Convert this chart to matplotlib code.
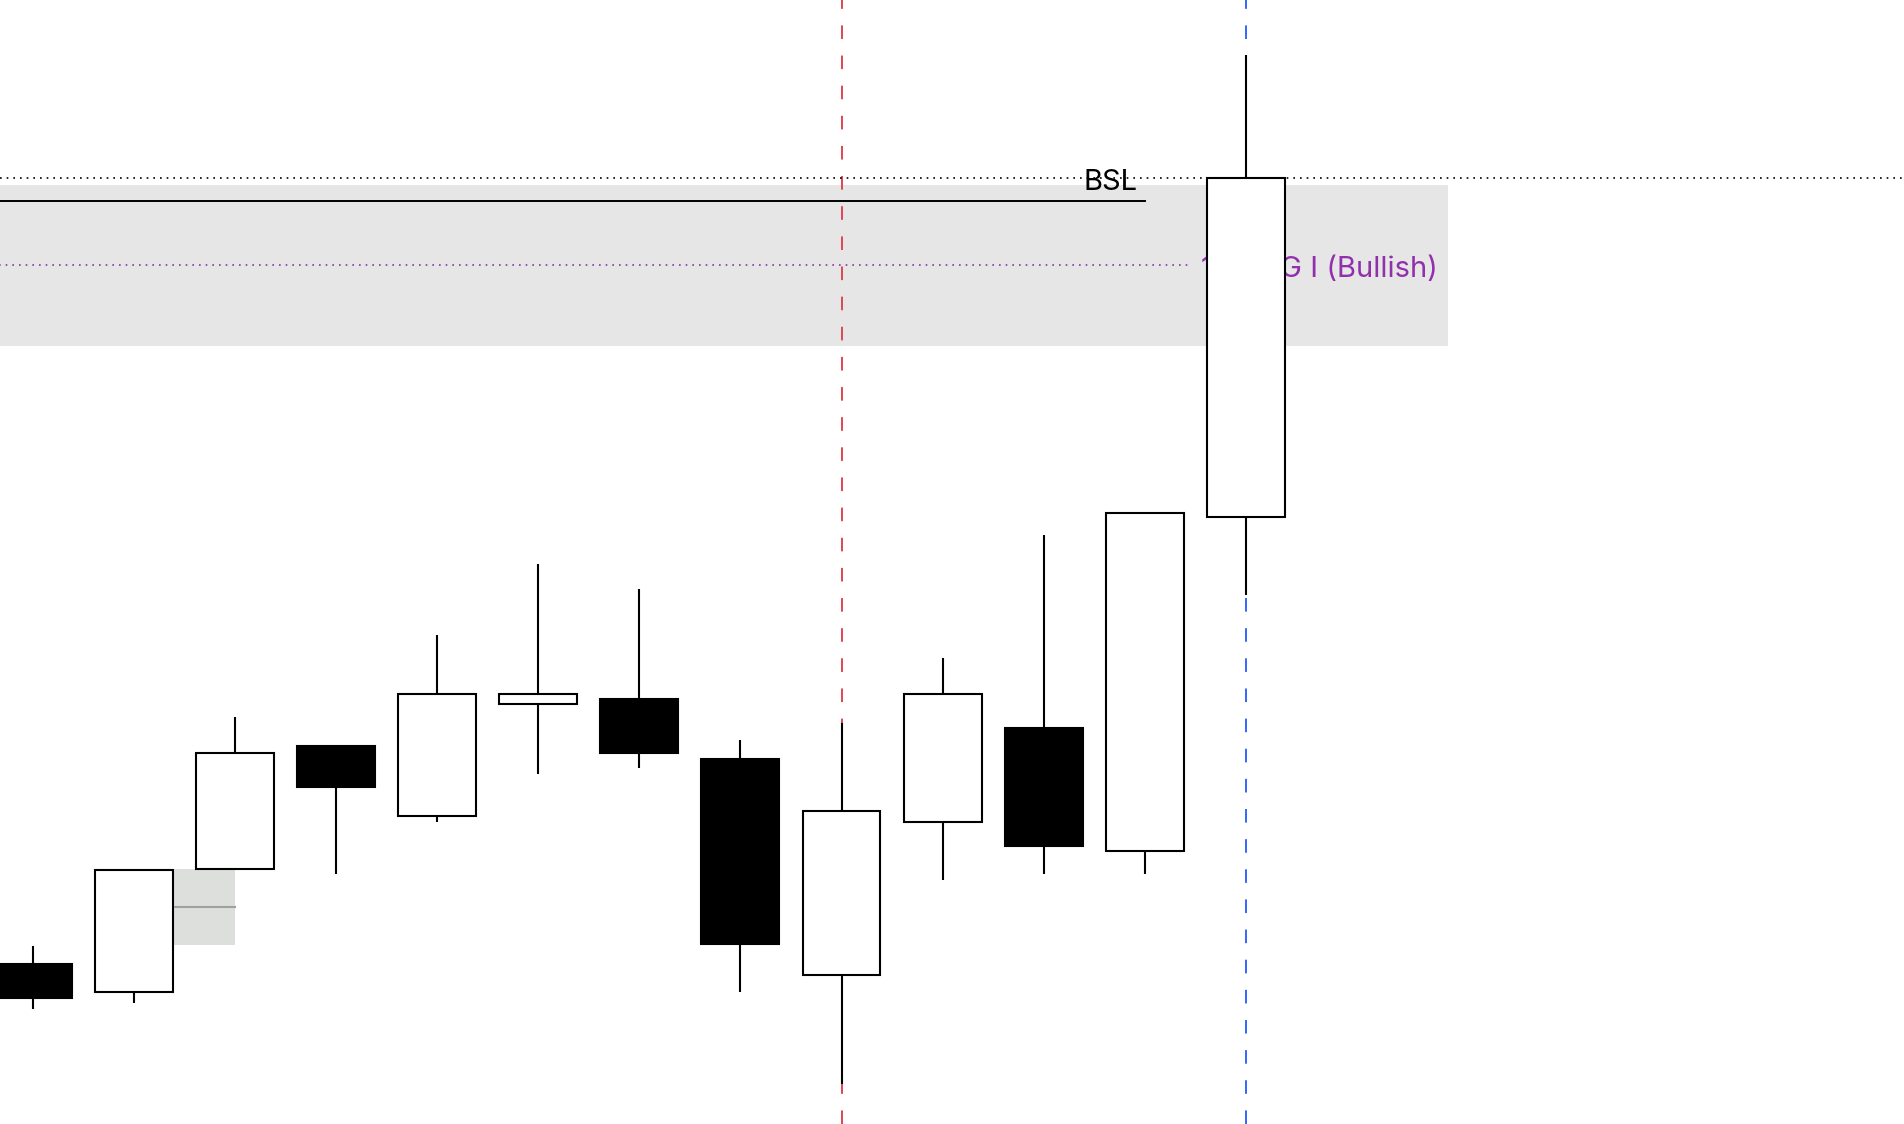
import matplotlib
matplotlib.use("Agg")
from matplotlib import pyplot as plt
from matplotlib.patches import Rectangle

plt.rcParams['font.family'] = ['Inter', 'DejaVu Sans']

# candle data (arbitrary price units)
opens  = [14.25, 11.77, 22.68, 33.59, 27.43, 37.37, 37.80, 32.51, 13.28, 26.89, 35.21, 24.30, 54.00]
highs  = [15.87, 22.57, 36.18, 33.59, 43.52, 49.78, 47.62, 34.13, 35.64, 41.47, 52.38, 54.32, 95.14]
lows   = [10.26, 10.80, 22.68, 22.25, 26.89, 31.10, 31.64, 11.77, 3.56, 21.71, 22.25, 22.25, 47.08]
closes = [11.23, 22.57, 33.05, 30.02, 38.23, 38.23, 33.05, 15.98, 27.86, 38.23, 24.73, 54.32, 84.13]

bsl_level = 84.20
old_high = 82.15
fvg_top, fvg_bottom = 83.54, 69.22
small_fvg_top, small_fvg_bottom = 22.72, 15.96
fvg_label = '1H FVG I (Bullish)'

fig = plt.figure(figsize=(19.04, 11.24), dpi=100)
ax = fig.add_axes([0, 0, 1, 1])
ax.axis('off')
ax.set_xlim(-0.324, 18.51)
ax.set_ylim(0, 100)

# big FVG zone + midline
ax.add_patch(Rectangle((-1, fvg_bottom), 15.0, fvg_top - fvg_bottom, facecolor='#e6e6e6', edgecolor='none', zorder=0))
fvg_mid = (fvg_top + fvg_bottom) / 2
ax.plot([-1, 11.43], [fvg_mid, fvg_mid], color='#922fad', lw=1.2, linestyle=(0, (1, 3)), zorder=1)
ax.text(13.90, fvg_mid - 0.4, fvg_label, color='#922fad', fontsize=21, ha='right', va='center', zorder=1)

# small FVG
ax.add_patch(Rectangle((1, small_fvg_bottom), 1.0, small_fvg_top - small_fvg_bottom, facecolor='#dcdfdc', edgecolor='none', zorder=0))
small_mid = (small_fvg_top + small_fvg_bottom) / 2
ax.plot([1, 2], [small_mid, small_mid], color='#9ea29e', lw=1.5, zorder=1)

# liquidity lines
ax.axhline(bsl_level, color='black', lw=1.2, linestyle=(0, (1, 3)), zorder=2)
ax.plot([-1, 11.0], [old_high, old_high], color='black', lw=1.4, zorder=2)
ax.text(10.66, bsl_level - 0.4, 'BSL', color='black', fontsize=21, ha='center', va='center', zorder=5)

# session separators
ax.axvline(8, color='#e04552', lw=1.4, linestyle=(0, (7, 8.5)), zorder=1)
ax.axvline(12, color='#3366ff', lw=1.4, linestyle=(0, (7, 8.5)), zorder=1)

# candles
w = 0.77
for i in range(len(opens)):
    o, h, l, c = opens[i], highs[i], lows[i], closes[i]
    ax.plot([i, i], [l, h], color='black', lw=1.5, zorder=3, solid_capstyle='butt')
    face = 'white' if c >= o else 'black'
    ax.add_patch(Rectangle((i - w / 2, min(o, c)), w, abs(c - o), facecolor=face,
                           edgecolor='black', lw=1.5, zorder=4))

plt.savefig('out.png', dpi=100)
